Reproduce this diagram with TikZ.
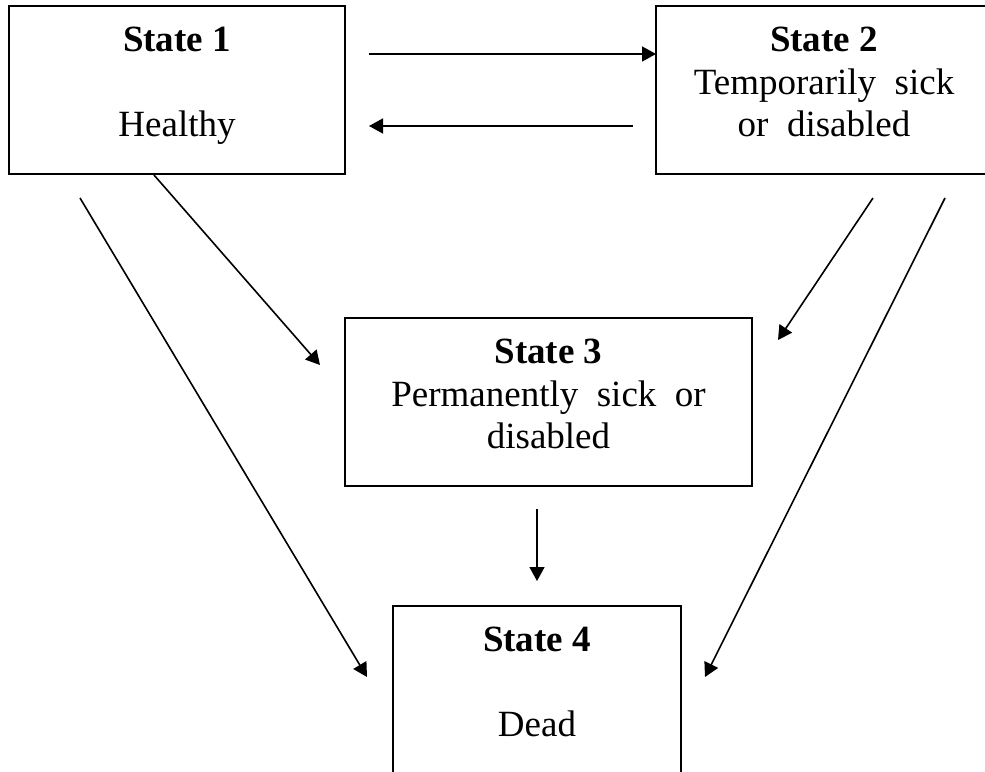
\documentclass[tikz,border=0pt]{standalone}
\usepackage{fontspec}
\setmainfont{Liberation Serif}
\usetikzlibrary{arrows.meta}

\begin{document}
\begin{tikzpicture}[
	x=0.5pt,
	y=-0.5pt,
	->,
	>={Triangle[length=7pt,width=7.5pt]},
	line width=0.8pt,
	state node/.style={rectangle,draw,line width=1.1pt,outer sep=0pt,minimum height=84pt,align=center,font=\fontsize{18.5}{21.25}\selectfont,text depth=8pt}
]
\useasboundingbox (0,0) rectangle (985,771);

\node[state node,minimum width=168pt] (s1) at (177,90) {\textbf{State 1}\\~\\Healthy};
\node[state node,minimum width=168pt] (s2) at (824,90) {\textbf{State 2}\\Temporarily~~sick\\or~~disabled};
\node[state node,minimum width=203.5pt] (s3) at (548.5,402) {\textbf{State 3}\\Permanently~~sick~~or\\disabled};
\node[state node,minimum width=144pt] (s4) at (537,690) {\textbf{State 4}\\~\\Dead};

% between state 1 and state 2
\draw ([shift={(24,-36)}]s1.east) -- ([shift={(0,-36)}]s2.west);
\draw ([shift={(-23,36)}]s2.west) -- ([shift={(24,36)}]s1.east);

% down to states 3 and 4
\draw ([shift={(-23,1)}]s1.south) -- ([shift={(-25,-37)}]s3.west);
\draw ([shift={(-97,24)}]s1.south) -- ([shift={(-26,-13)}]s4.west);
\draw ([shift={(49,24)}]s2.south) -- ([shift={(26,-62)}]s3.east);
\draw ([shift={(121,24)}]s2.south) -- ([shift={(24,-13)}]s4.east);
\draw ([shift={(-11.5,23)}]s3.south) -- ([shift={(0,-25)}]s4.north);
\end{tikzpicture}
\end{document}
